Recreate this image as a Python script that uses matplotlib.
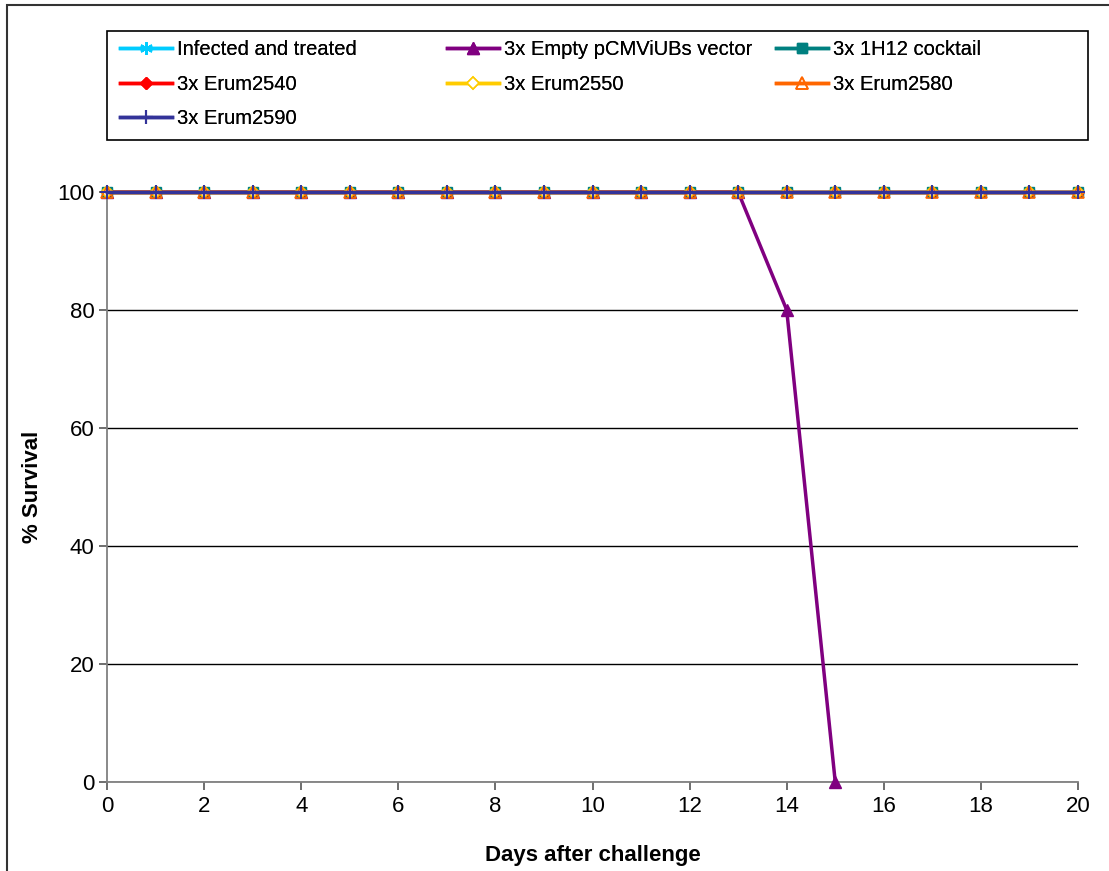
import numpy as np
import matplotlib
matplotlib.use("Agg")
import matplotlib.pyplot as plt
from matplotlib.patches import Rectangle

plt.rcParams['font.family'] = ['Liberation Sans', 'DejaVu Sans']

days = np.arange(0, 21)
series_names = ["Infected and treated", "3x Empty pCMViUBs vector", "3x 1H12 cocktail",
                "3x Erum2540", "3x Erum2550", "3x Erum2580", "3x Erum2590"]
infected = [100] * 21
empty_vector = [100] * 14 + [80, 0]
cocktail_1h12 = [100] * 21
erum2540 = [100] * 21
erum2550 = [100] * 21
erum2580 = [100] * 21
erum2590 = [100] * 21

W, H = 1109, 871
fig = plt.figure(figsize=(W / 100, H / 100), dpi=100)
ax = fig.add_axes([107 / W, 1 - 782 / H, (1078 - 107) / W, (782 - 192) / H])

styles = [
    dict(color="#00CCFF", marker=(6, 2, 0), mfc="#00CCFF", mec="#00CCFF", ms=9, mew=1.5),
    dict(color="#800080", marker="^", mfc="#800080", mec="#800080", ms=8),
    dict(color="#008080", marker="s", mfc="#008080", mec="#008080", ms=7),
    dict(color="#FF0000", marker="D", mfc="#FF0000", mec="#FF0000", ms=6),
    dict(color="#FFCC00", marker="D", mfc="white", mec="#FFCC00", ms=6, mew=1.2),
    dict(color="#FF6600", marker="^", mfc="none", mec="#FF6600", ms=8, mew=1.2),
    dict(color="#333399", marker="+", mfc="#333399", mec="#333399", ms=10, mew=1.5),
]
values = [infected, empty_vector, cocktail_1h12, erum2540, erum2550, erum2580, erum2590]

handles = []
for name, vals, st in zip(series_names, values, styles):
    x = days[:len(vals)]
    h, = ax.plot(x, vals, lw=2.5, clip_on=False, zorder=3, label=name, **st)
    handles.append(h)

ax.set_xlim(0, 20)
ax.set_ylim(0, 100)
ax.set_xticks(np.arange(0, 21, 2))
ax.set_yticks(np.arange(0, 101, 20))
ax.yaxis.grid(True, color="black", lw=1)
ax.set_axisbelow(True)
for s in ["top", "right"]:
    ax.spines[s].set_visible(False)
for s in ["left", "bottom"]:
    ax.spines[s].set_color("#808080")
    ax.spines[s].set_linewidth(1.3)
ax.tick_params(axis="both", labelsize=16, length=6, width=1.2, color="#555555",
               direction="out")
ax.tick_params(axis="y", pad=3)
ax.tick_params(axis="x", pad=4)

ax.set_xlabel("Days after challenge", fontsize=16, fontweight="bold", labelpad=20)
ax.set_ylabel("% Survival", fontsize=16, fontweight="bold", labelpad=10)

# outer chart frame
fig.patches.append(Rectangle((7 / W, -0.1), 1.2, 1 - 5 / H + 0.1, transform=fig.transFigure,
                             fill=False, edgecolor="#333333", lw=1.5, zorder=0))
# legend frame
fig.patches.append(Rectangle((107 / W, 1 - 140 / H), (1088 - 107) / W, (140 - 31) / H,
                             transform=fig.transFigure, fill=False, edgecolor="black",
                             lw=1.2, zorder=0))

columns = [([0, 3, 6], 120), ([1, 4], 447), ([2, 5], 776)]
for idx, xpos in columns:
    leg = fig.legend([handles[i] for i in idx], [series_names[i] for i in idx],
                     loc="upper left", bbox_to_anchor=(xpos / W, 1 - 40 / H),
                     frameon=False, fontsize=14.5, handlelength=2.6, handletextpad=0.25,
                     borderpad=0, borderaxespad=0, labelspacing=0.78)
    fig.add_artist(leg)

fig.savefig("out.png", dpi=100)
